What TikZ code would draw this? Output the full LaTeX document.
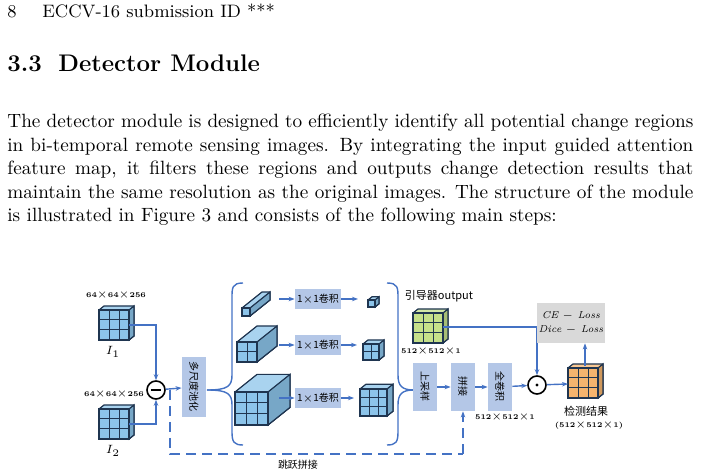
\documentclass[tikz,border=0pt]{standalone}
\usepackage{fontspec}
\newfontfamily\cjk{Noto Sans CJK SC}
\usetikzlibrary{positioning, arrows.meta, calc}

\definecolor{lineblue}{HTML}{4472C4}
\definecolor{boxblue}{HTML}{B4C7E7}
\definecolor{cubeblue}{HTML}{8CC4EA}
\definecolor{cubeline}{HTML}{1F3550}
\definecolor{cubegreen}{HTML}{C5E08A}
\definecolor{cubeorange}{HTML}{F5B46E}

% block: lower-left x, y, cells across, cells high, cell size, depth, fill
\newcommand{\blockdraw}[7]{%
  \pgfmathsetmacro{\bw}{#3*#5}\pgfmathsetmacro{\bh}{#4*#5}
  \filldraw[cubeline, fill=#7!75!white, line width=0.6pt]
    (#1,#2-\bh) -- ++(#6,-#6*0.8) -- ++(\bw,0) -- ++(0,\bh) -- ++(-#6,#6*0.8) -- cycle;
  \filldraw[cubeline, fill=#7!85!black, line width=0.6pt]
    (#1+\bw,#2) -- ++(#6,-#6*0.8) -- ++(0,-\bh) -- ++(-#6,#6*0.8) -- cycle;
  \filldraw[cubeline, fill=#7, line width=0.6pt] (#1,#2) rectangle ++(\bw,-\bh);
  \foreach \i in {1,...,#3}{\draw[cubeline, line width=0.5pt] (#1+\i*#5-#5,#2) -- ++(0,-\bh);}
  \foreach \j in {1,...,#4}{\draw[cubeline, line width=0.5pt] (#1,#2-\j*#5+#5) -- ++(\bw,0);}
  \draw[cubeline, line width=0.6pt] (#1,#2-\bh) -- ++(\bw,0) -- ++(0,\bh);
}
\newcommand{\fullline}[1]{\makebox[343pt][s]{#1}}

\begin{document}
\begin{tikzpicture}[
    x=0.5pt, y=-0.5pt,
    conn/.style={lineblue, line width=0.7pt},
    arr/.style={conn, -{Stealth[length=3pt]}},
    skip/.style={conn, dashed, dash pattern=on 5pt off 3pt},
    stepbox/.style={fill=boxblue, inner sep=0pt, minimum width=12pt, font=\cjk\fontsize{5}{6}\selectfont},
    convbox/.style={fill=boxblue, inner sep=0pt, minimum width=23pt, minimum height=10pt, font=\cjk\fontsize{5}{6}\selectfont},
    dimtext/.style={font=\bfseries\fontsize{3.6}{4}\selectfont, inner sep=0.3pt},
    optext/.style={circle, draw=black, line width=0.8pt, minimum size=9pt, inner sep=0pt},
    bodyline/.style={anchor=base west, inner sep=0pt, font=\fontsize{9.6}{11}\selectfont},
]
\useasboundingbox (0,0) rectangle (703,475);

% page header and text
\node[anchor=base west, font=\fontsize{9}{11}\selectfont, inner sep=0pt] (pagenum) at (7,18) {8};
\node[anchor=base west, font=\fontsize{9}{11}\selectfont, inner sep=0pt] (header) at (42,18) {ECCV-16 submission ID ***};
\node[anchor=base west, font=\bfseries\fontsize{12}{14}\selectfont, inner sep=0pt] (secnum) at (7,72) {3.3};
\node[anchor=base west, font=\bfseries\fontsize{12}{14}\selectfont, inner sep=0pt] (sectitle) at (58,72) {Detector Module};
\node[bodyline] (line-1) at (7,128) {\fullline{The detector module is designed to efficiently identify all potential change regions}};
\node[bodyline] (line-2) at (7,152) {\fullline{in bi-temporal remote sensing images. By integrating the input guided attention}};
\node[bodyline] (line-3) at (7,175) {\fullline{feature map, it filters these regions and outputs change detection results that}};
\node[bodyline] (line-4) at (7,199) {\fullline{maintain the same resolution as the original images. The structure of the module}};
\node[bodyline] (line-5) at (7,222) {is illustrated in Figure 3 and consists of the following main steps:};

% inputs
\blockdraw{99}{340}{3}{3}{10}{5}{cubeblue}
\blockdraw{99}{439}{3}{3}{10}{5}{cubeblue}
\coordinate (I1) at (129,325);
\coordinate (I2) at (129,424);
\node[dimtext] (d1) at (116,295) {64$\times$64$\times$256};
\node[dimtext] (d2) at (114,394) {64$\times$64$\times$256};
\node[font=\itshape\fontsize{6.5}{7}\selectfont] at (113,352) {$I_1$};
\node[font=\itshape\fontsize{6.5}{7}\selectfont] at (113,451) {$I_2$};

\node[optext] (minus) at (156,390) {};
\draw[black, line width=0.8pt] ($(minus)+(-5,0)$) -- ($(minus)+(5,0)$);
\draw[arr] (I1) -| (minus.north);
\draw[arr] (I2) -| (minus.south);

\node[stepbox, minimum height=30pt] (pool) at (194,387) {\rotatebox{-90}{多尺度池化}};
\draw[arr] (minus) -- (pool);

% braces
\draw[conn] (243,283) .. controls (232,283) and (232,288) .. (232,298) -- (232,375)
  .. controls (232,386) and (228,390) .. (207,390);
\draw[conn] (207,390) .. controls (228,390) and (232,394) .. (232,405) -- (232,432)
  .. controls (232,442) and (234,445) .. (243,445);
\draw[conn] (387,283) .. controls (398,283) and (398,288) .. (398,298) -- (398,375)
  .. controls (398,386) and (402,390) .. (414,390);
\draw[conn] (414,390) .. controls (402,390) and (398,394) .. (398,405) -- (398,432)
  .. controls (398,442) and (396,445) .. (387,445);

% pooled branches
\blockdraw{242}{316}{1}{1}{8}{20}{cubeblue}
\blockdraw{237}{362}{2}{2}{10}{20}{cubeblue}
\blockdraw{235}{425}{3}{3}{11}{22}{cubeblue}
\blockdraw{368}{307}{1}{1}{7}{4}{cubeblue}
\blockdraw{363}{360}{2}{2}{8}{5}{cubeblue}
\blockdraw{360}{416}{3}{3}{9}{6}{cubeblue}
\foreach \r/\y in {1/299, 2/345, 3/398}{
  \node[convbox] (conv-\r) at (318,\y) {1$\times$1卷积};
}
\draw[arr] (279,299) -- (conv-1);
\draw[arr] (conv-1) -- (358,299);
\draw[arr] (279,345) -- (conv-2);
\draw[arr] (conv-2) -- (357,345);
\draw[arr] (279,398) -- (conv-3);
\draw[arr] (conv-3) -- (354,398);

% guide map
\blockdraw{413}{343}{3}{3}{10}{5}{cubegreen}
\coordinate (guide) at (443,327);
\node[font=\cjk\fontsize{5.5}{6}\selectfont, inner sep=0.5pt] (gtitle) at (439,296) {引导器output};
\node[dimtext] (gdim) at (431,351) {512$\times$512$\times$1};

% decoder steps
\node[stepbox, minimum height=24pt] (up) at (425,387) {\rotatebox{-90}{上采样}};
\node[stepbox, minimum height=24pt] (cat) at (463,387) {\rotatebox{-90}{拼接}};
\node[stepbox, minimum height=24pt] (fconv) at (500,387) {\rotatebox{-90}{全卷积}};
\node[dimtext] (fdim) at (505,417) {512$\times$512$\times$1};
\node[optext] (dot) at (537,385) {};
\fill ($(dot)$) circle (1.6);
\draw[arr] (up) -- (cat);
\draw[arr] (cat) -- (fconv);
\draw[arr] (fconv) -- (dot);
\draw[arr] (guide) -| (dot.north);

% result and loss
\blockdraw{568}{398}{3}{3}{10}{5}{cubeorange}
\coordinate (res-w) at (568,384);
\coordinate (res-n) at (585,366);
\draw[arr] (dot) -- (res-w);
\node[font=\cjk\fontsize{5.5}{6}\selectfont] (restitle) at (586,411) {检测结果};
\node[dimtext] (resdim) at (589,425) {(512$\times$512$\times$1)};
\node[fill=black!15, minimum width=31pt, minimum height=20pt, inner sep=1pt, align=center,
      font=\itshape\fontsize{5}{7}\selectfont] (loss) at (571,323) {CE $-$ Loss\\Dice $-$ Loss};
\draw[arr] (res-n) -- (loss.south -| res-n);

% skip connection
\draw[skip] (170,390) -- (170,454) -- (463,454);
\draw[skip, -{Stealth[length=3pt]}] (463,454) -- (cat.south);
\node[font=\cjk\fontsize{5}{6}\selectfont] (skiplabel) at (298,465) {跳跃拼接};
\end{tikzpicture}
\end{document}
